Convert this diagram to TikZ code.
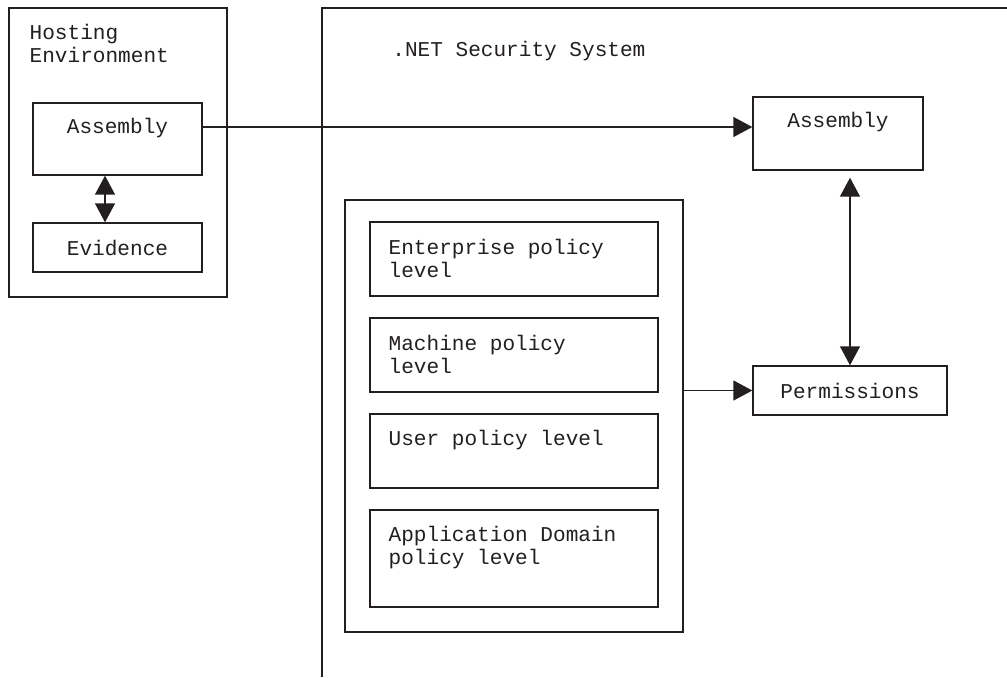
\documentclass[tikz,border=0pt]{standalone}
\usepackage{fontspec}
\setmainfont{Liberation Mono}
\usepackage{tikz}
\usetikzlibrary{arrows.meta,positioning,calc}

\definecolor{ink}{RGB}{35,31,32}
\tikzset{
  box/.style={draw=ink, line width=0.8pt, inner sep=0pt, text=ink, font=\fontsize{12}{13}\selectfont},
  txt/.style={text=ink, inner sep=0pt, align=left, font=\fontsize{12}{13}\selectfont},
  arr/.style={draw=ink, line width=0.8pt, -{Triangle[length=0.38cm,width=0.4cm]}},
  darr/.style={draw=ink, line width=0.8pt, {Triangle[length=0.38cm,width=0.4cm]}-{Triangle[length=0.38cm,width=0.4cm]}}
}

\begin{document}
\begin{tikzpicture}[x=0.02cm,y=-0.02cm]
\useasboundingbox (0,0) rectangle (1007,677);

% hosting environment
\node[box, minimum width=4.36cm, minimum height=5.78cm] (host) at (118,152.5) { };
\node[txt, anchor=north west] (hostlbl) at ([shift={(0.42cm,-0.34cm)}]host.north west) {Hosting\\Environment};

\node[box, minimum width=3.38cm, minimum height=1.44cm] (asmL) at (117.5,139) { };
\node[txt, anchor=north] (asmLlbl) at ([yshift=-0.32cm]asmL.north) {Assembly};
\node[box, minimum width=3.38cm, minimum height=0.98cm] (evid) at (117.5,247.5) {Evidence};

\draw[darr] ([xshift=-0.25cm]asmL.south) -- ([xshift=-0.25cm]evid.north);

% security system
\draw[ink, line width=0.8pt] (1007,8) -| (322,677);
\node[txt, anchor=north west] (netlbl) at (392,41) {.NET Security System};

\node[box, minimum width=3.4cm, minimum height=1.46cm] (asmR) at (838,133.5) { };
\node[txt, anchor=north] (asmRlbl) at ([yshift=-0.32cm]asmR.north) {Assembly};
\node[box, minimum width=3.88cm, minimum height=0.98cm] (perm) at (850,390.5) {Permissions};

\node[box, minimum width=6.76cm, minimum height=8.64cm] (pol) at (514,416) { };

\node[box, minimum width=5.76cm, minimum height=1.48cm] (ent) at (514,259) { };
\node[box, minimum width=5.76cm, minimum height=1.48cm] (mach) at (514,355) { };
\node[box, minimum width=5.76cm, minimum height=1.48cm] (user) at (514,451) { };
\node[box, minimum width=5.76cm, minimum height=1.94cm] (appd) at (514,558.5) { };

\node[txt, anchor=north west] (entlbl) at ([shift={(0.38cm,-0.36cm)}]ent.north west) {Enterprise policy\\level};
\node[txt, anchor=north west] (machlbl) at ([shift={(0.38cm,-0.36cm)}]mach.north west) {Machine policy\\level};
\node[txt, anchor=north west] (userlbl) at ([shift={(0.38cm,-0.34cm)}]user.north west) {User policy level};
\node[txt, anchor=north west] (appdlbl) at ([shift={(0.38cm,-0.34cm)}]appd.north west) {Application Domain\\policy level};

% connectors
\coordinate (asmLout) at ([yshift=0.24cm]asmL.east);
\draw[arr] (asmLout) -- (asmLout -| asmR.west);
\draw[darr, shorten >=0.14cm] (perm.north) -- (perm.north |- asmR.south);
\draw[arr] (pol.east |- perm.west) -- (perm.west);

\end{tikzpicture}
\end{document}
